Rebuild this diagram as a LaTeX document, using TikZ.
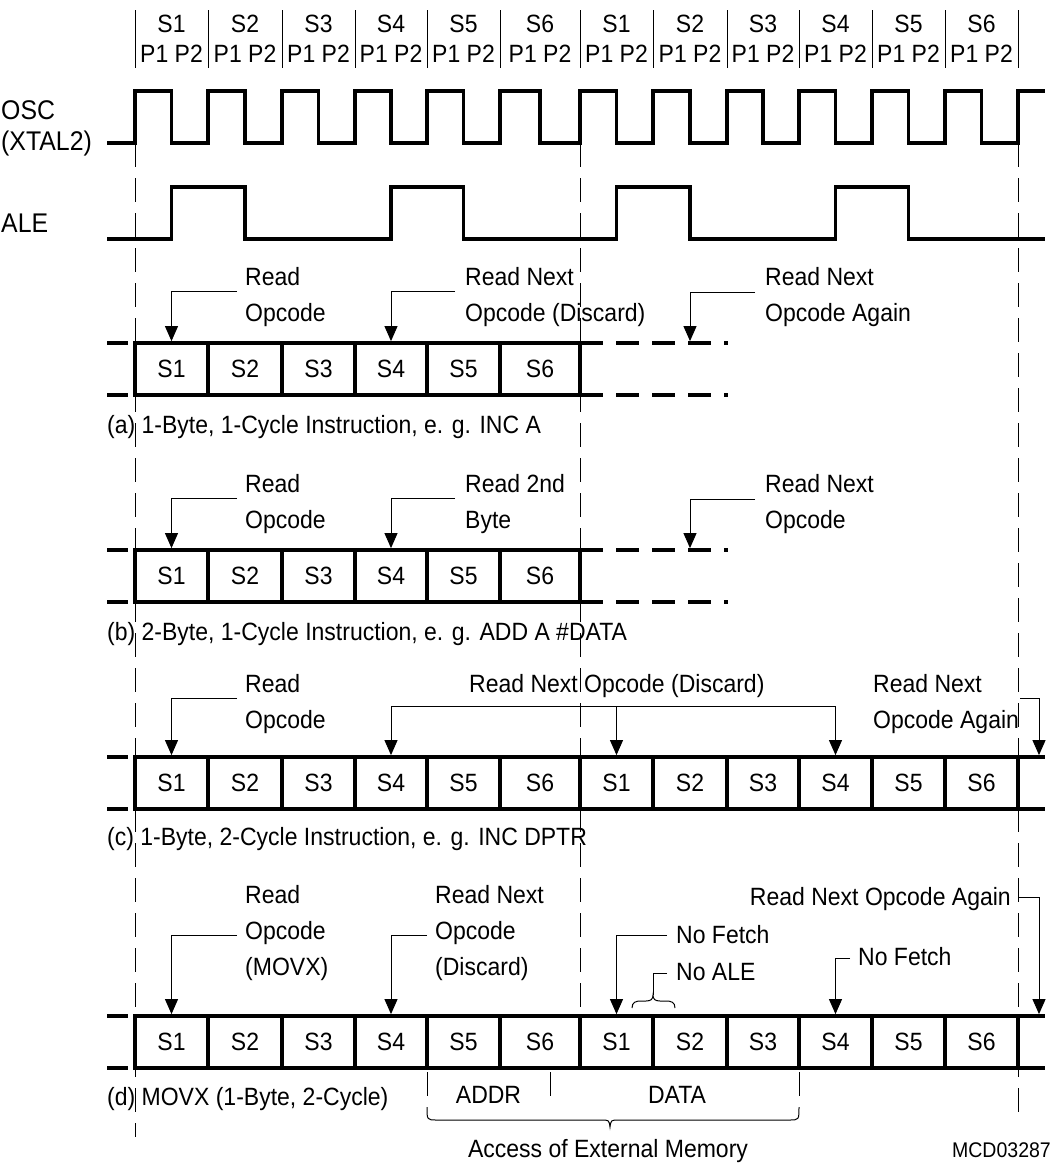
\documentclass[tikz,border=0pt]{standalone}
\usepackage{fontspec}
\setmainfont[FakeStretch=0.92]{Liberation Sans}
\usetikzlibrary{arrows.meta}

\newcommand\mkrow[3]{%
  \foreach \a/\b/\s [count=\i] in {#3} {
    \node[cell, minimum width=\b-\a] (#1\i) at ({(\a+\b)/2},{#2+26}) {\s};
  }%
}

\begin{document}
\begin{tikzpicture}[x=1pt,y=-1pt,
  sig/.style={line width=3.8pt, line join=miter, line cap=butt},
  thinl/.style={line width=1pt},
  guide/.style={line width=1pt, dash pattern=on 24pt off 11pt},
  arr/.style={line width=1pt, -{Triangle[width=13pt,length=15pt]}},
  txt/.style={font=\fontsize{25}{36}\selectfont, inner sep=0pt},
  lbl/.style={txt, anchor=base west, align=left},
  side/.style={font=\fontsize{27}{30}\selectfont, inner sep=0pt, anchor=base west},
  cell/.style={txt, draw, line width=3.8pt, rectangle, minimum height=52pt, inner sep=0pt},
]
\useasboundingbox[fill=white] (0,0) rectangle (1051,1163);

% ---------- guide lines ----------
\draw[guide] (135,143) -- (135,1137);
\draw[guide] (580,143) -- (580,1016);
\draw[guide] (1018,143) -- (1018,1112);

% ---------- header ----------
\foreach \x in {135,208,282,355,427,500,580,653,727,799,872,945,1018}
  \draw[thinl] (\x,10) -- (\x,68);
\foreach \a/\b/\s [count=\i] in {135/208/S1,208/282/S2,282/355/S3,355/427/S4,427/500/S5,500/580/S6,580/653/S1,653/727/S2,727/799/S3,799/872/S4,872/945/S5,945/1018/S6} {
  \node[txt, anchor=base] (hs\i) at ({(\a+\b)/2},32) {\s};
  \node[txt, anchor=base] (hp\i) at ({(\a+\b)/2},62) {P1 P2};
}

% ---------- signal labels ----------
\node[side] (osc) at (1,119) {OSC};
\node[side] (xtal) at (1,150) {(XTAL2)};
\node[side] (ale) at (1,232) {ALE};

% ---------- OSC ----------
\draw[sig] (107,143)
  \foreach \a/\b in {135/208,208/282,282/355,355/427,427/500,500/580,580/653,653/727,727/799,799/872,872/945,945/1018} {
    -- (\a,143) -- (\a,91) -- ({(\a+\b)/2},91) -- ({(\a+\b)/2},143)
  } -- (1018,143) -- (1018,91) -- (1045,91);

% ---------- ALE ----------
\draw[sig] (107,239) -- (171.5,239) -- (171.5,187) -- (245,187) -- (245,239)
  -- (391,239) -- (391,187) -- (463.5,187) -- (463.5,239)
  -- (616.5,239) -- (616.5,187) -- (690,187) -- (690,239)
  -- (835.5,239) -- (835.5,187) -- (908.5,187) -- (908.5,239) -- (1045,239);

% ---------- rows of states ----------
\mkrow{a}{343}{135/208/S1,208/282/S2,282/355/S3,355/427/S4,427/500/S5,500/580/S6}
\mkrow{b}{550}{135/208/S1,208/282/S2,282/355/S3,355/427/S4,427/500/S5,500/580/S6}
\mkrow{c}{757}{135/208/S1,208/282/S2,282/355/S3,355/427/S4,427/500/S5,500/580/S6,580/653/S1,653/727/S2,727/799/S3,799/872/S4,872/945/S5,945/1018/S6}
\mkrow{d}{1016}{135/208/S1,208/282/S2,282/355/S3,355/427/S4,427/500/S5,500/580/S6,580/653/S1,653/727/S2,727/799/S3,799/872/S4,872/945/S5,945/1018/S6}

% left stubs
\foreach \T in {343,550,757,1016} {
  \draw[sig] (107,\T) -- (128,\T);
  \draw[sig] (107,\T+52) -- (128,\T+52);
}
% dashed continuation of rows a and b
\foreach \T in {343,550} {
  \draw[sig, dash pattern=on 23pt off 13pt] (580,\T) -- (728,\T);
  \draw[sig, dash pattern=on 23pt off 13pt] (580,\T+52) -- (728,\T+52);
}
% continuation of rows c and d
\foreach \T in {757,1016} {
  \draw[sig] (1018,\T) -- (1045,\T);
  \draw[sig] (1018,\T+52) -- (1045,\T+52);
}

% ---------- row (a) ----------
\node[lbl] (ta1) at (245,321) {Read\\Opcode};
\node[lbl] (ta2) at (465,321) {Read Next\\Opcode (Discard)};
\node[lbl] (ta3) at (765,321) {Read Next\\Opcode Again};
\coordinate (ea3) at (690,341.1);
\draw[arr] (237,291) -| (a1.north);
\draw[arr] (455,291) -| (a4.north);
\draw[arr] (755,292) -| (ea3);
\node[lbl] (capa) at (107,433) {(a) 1-Byte, 1-Cycle Instruction, e. g. INC A};

% ---------- row (b) ----------
\node[lbl] (tb1) at (245,528) {Read\\Opcode};
\node[lbl] (tb2) at (465,528) {Read 2nd\\Byte};
\node[lbl] (tb3) at (765,528) {Read Next\\Opcode};
\coordinate (eb3) at (690,548.1);
\draw[arr] (237,498) -| (b1.north);
\draw[arr] (455,498) -| (b4.north);
\draw[arr] (755,499) -| (eb3);
\node[lbl] (capb) at (107,640) {(b) 2-Byte, 1-Cycle Instruction, e. g. ADD A \#DATA};

% ---------- row (c) ----------
\node[lbl] (tc1) at (245,728) {Read\\Opcode};
\node[lbl] (tc2) at (469,692) {Read Next Opcode (Discard)};
\node[lbl] (tc3) at (873,728) {Read Next\\Opcode Again};
\coordinate (ec3) at (1039,755.1);
\draw[arr] (237,698) -| (c1.north);
\draw[line width=1pt, {Triangle[width=13pt,length=15pt]}-{Triangle[width=13pt,length=15pt]}]
  (c4.north) -- (c4.north |- 0,706) -| (c10.north);
\draw[arr] (c7.north |- 0,706) -- (c7.north);
\draw[arr] (1020,698) -| (ec3);
\node[lbl] (capc) at (107,845) {(c) 1-Byte, 2-Cycle Instruction, e. g. INC DPTR};

% ---------- row (d) ----------
\node[lbl] (td1) at (245,975) {Read\\Opcode\\(MOVX)};
\node[lbl] (td2) at (435,975) {Read Next\\Opcode\\(Discard)};
\node[lbl] (td3) at (676,943) {No Fetch};
\node[lbl] (td4) at (676,980) {No ALE};
\node[lbl] (td5) at (858,965) {No Fetch};
\node[txt, anchor=base east] (td6) at (1011,905) {Read Next Opcode Again};
\coordinate (ed6) at (1039,1014.1);
\draw[arr] (237,935) -| (d1.north);
\draw[arr] (427,935) -| (d4.north);
\draw[arr] (667,935) -| (d7.north);
\draw[arr] (850,958) -| (d10.north);
\draw[arr] (1018,897) -| (ed6);
% No ALE brace
\coordinate (alebr) at (653,995);
\draw[thinl] (667,973) -| (alebr);
\draw[thinl] (632,1008) .. controls (632,1002) and (636,1001) .. (641,1001) -- (646,1001)
  .. controls (651,1001) and (653,999) .. (alebr)
  .. controls (653,999) and (655,1001) .. (660,1001) -- (666,1001)
  .. controls (671,1001) and (675,1002) .. (675,1008);
\node[lbl] (capd) at (107,1105) {(d) MOVX (1-Byte, 2-Cycle)};

% ---------- external memory access brace ----------
\draw[guide] (427,1072) -- (427,1107);
\draw[guide] (799,1072) -- (799,1107);
\draw[guide] (550,1072) -- (550,1105);
\draw[thinl] (427,1107) .. controls (427,1120) .. (437,1120) -- (601,1120)
  .. controls (609,1120) .. (610,1127) .. controls (611,1120) .. (619,1120)
  -- (789,1120) .. controls (799,1120) .. (799,1107);
\node[txt, anchor=base] (addr) at (488.5,1103) {ADDR};
\node[txt, anchor=base] (data) at (677,1103) {DATA};
\node[txt, anchor=base] (acc) at (608,1157) {Access of External Memory};
\node[font=\fontsize{21.2}{24}\selectfont, inner sep=0pt, anchor=base east] (mcd) at (1051,1157) {MCD03287};
\end{tikzpicture}
\end{document}
